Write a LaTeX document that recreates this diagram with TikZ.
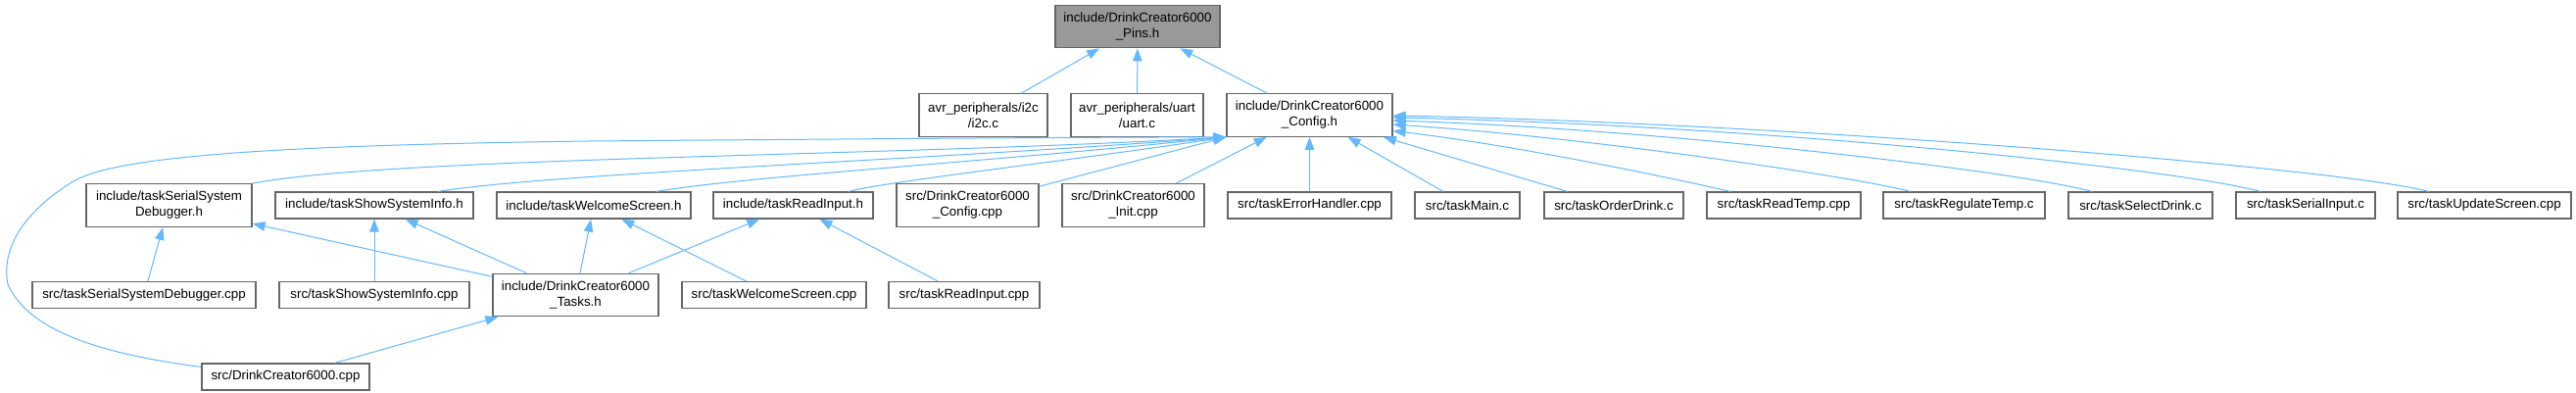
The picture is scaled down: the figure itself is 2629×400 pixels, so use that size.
\documentclass[tikz,border=0pt]{standalone}
\usepackage{fontspec}
\setmainfont{Liberation Sans}
\usetikzlibrary{arrows.meta}
\definecolor{edgeblue}{HTML}{63B8FF}
\definecolor{boxgray}{HTML}{666666}
\definecolor{hlgray}{HTML}{999999}
\begin{document}
\begin{tikzpicture}[x=1pt,y=-1pt,
  box/.style={draw=boxgray, line width=1.2pt, fill=white, inner sep=0pt, align=center,
    font=\fontsize{13.33pt}{16pt}\selectfont, text=black},
  hl/.style={fill=hlgray},
  one/.style={minimum height=27pt},
  two/.style={minimum height=43.5pt},
  edge/.style={draw=edgeblue, line width=1pt, -{Triangle[length=13pt,width=9.5pt]}}]
\useasboundingbox (0,0) rectangle (2629,400);

% row 0
\node[box, hl, two, minimum width=168pt] (pins) at (1161,27) {include/DrinkCreator6000\\\_Pins.h};
% row 1
\node[box, two, minimum width=131pt] (i2c) at (1003.5,117.5) {avr\_peripherals/i2c\\/i2c.c};
\node[box, two, minimum width=135pt] (uart) at (1160.5,117.5) {avr\_peripherals/uart\\/uart.c};
\node[box, two, minimum width=169pt] (cfg) at (1336.5,117.5) {include/DrinkCreator6000\\\_Config.h};
% row 2
\node[box, two, minimum width=169pt] (SSDh) at (172.5,209.5) {include/taskSerialSystem\\Debugger.h};
\node[box, one, minimum width=202pt] (SSIh) at (382,209.5) {include/taskShowSystemInfo.h};
\node[box, one, minimum width=198pt] (WSh) at (606,209.5) {include/taskWelcomeScreen.h};
\node[box, one, minimum width=163pt] (RIh) at (809.5,209.5) {include/taskReadInput.h};
\node[box, two, minimum width=145pt] (DCcfg) at (987.5,209.5) {src/DrinkCreator6000\\\_Config.cpp};
\node[box, two, minimum width=145pt] (DCinit) at (1156.5,209.5) {src/DrinkCreator6000\\\_Init.cpp};
\node[box, one, minimum width=167pt] (EH) at (1336.5,209.5) {src/taskErrorHandler.cpp};
\node[box, one, minimum width=107pt] (main) at (1497.5,209.5) {src/taskMain.c};
\node[box, one, minimum width=142pt] (order) at (1647,209.5) {src/taskOrderDrink.c};
\node[box, one, minimum width=157pt] (readtemp) at (1820.5,209.5) {src/taskReadTemp.cpp};
\node[box, one, minimum width=165pt] (regtemp) at (2004.5,209.5) {src/taskRegulateTemp.c};
\node[box, one, minimum width=147pt] (seldrink) at (2184.5,209.5) {src/taskSelectDrink.c};
\node[box, one, minimum width=142pt] (serinput) at (2353,209.5) {src/taskSerialInput.c};
\node[box, one, minimum width=177pt] (update) at (2535.5,209.5) {src/taskUpdateScreen.cpp};
% row 3
\node[box, one, minimum width=228pt] (SSDcpp) at (147,301) {src/taskSerialSystemDebugger.cpp};
\node[box, one, minimum width=194pt] (SSIcpp) at (382,301) {src/taskShowSystemInfo.cpp};
\node[box, two, minimum width=169pt] (tasks) at (587.5,301) {include/DrinkCreator6000\\\_Tasks.h};
\node[box, one, minimum width=188pt] (WScpp) at (790,301) {src/taskWelcomeScreen.cpp};
\node[box, one, minimum width=154pt] (RIcpp) at (984,301) {src/taskReadInput.cpp};
% row 4
\node[box, one, minimum width=171pt] (DCcpp) at (291.5,384.5) {src/DrinkCreator6000.cpp};

% edges to Pins.h
\draw[edge] (i2c) -- (pins);
\draw[edge] (uart) -- (pins);
\draw[edge] (cfg) -- (pins);

% edges to Config.h (left bundle)
\draw[edge] ([yshift=-4pt]DCcpp.north west) .. controls (110,362) and (30,340) .. (8,290)
  .. controls (0,250) and (30,212) .. (75,185)
  .. controls (120,158) and (300,148) .. (600,144)
  .. controls (850,142) and (1100,140) .. (cfg.south west);
\draw[edge] (SSDh.north east) .. controls (400,160) and (900,160) .. (cfg.south west);
\draw[edge] ([xshift=65pt]SSIh.north) .. controls (560,177) and (950,163) .. (cfg.south west);
\draw[edge] ([xshift=64pt]WSh.north) .. controls (760,180) and (1000,166) .. (cfg.south west);
\draw[edge] ([xshift=56.5pt]RIh.north) .. controls (905,185) and (1100,163) .. (cfg.south west);
\draw[edge] (DCcfg) -- (cfg);
\draw[edge] (DCinit) -- (cfg);
\draw[edge] (EH) -- (cfg);
\draw[edge] (main) -- (cfg);
\draw[edge] (order) -- (cfg);
% edges to Config.h (right side)
\draw[edge] ([xshift=-54.5pt]readtemp.north) .. controls (1730,187) and (1560,150) .. ([yshift=-16pt]cfg.east);
\draw[edge] ([xshift=-54.5pt]regtemp.north) .. controls (1890,180) and (1620,140) .. ([yshift=-9.5pt]cfg.east);
\draw[edge] ([xshift=-49.5pt]seldrink.north) .. controls (2060,175) and (1700,132) .. ([yshift=-5.5pt]cfg.east);
\draw[edge] ([xshift=-46pt]serinput.north) .. controls (2220,172) and (1800,128) .. ([yshift=-2.5pt]cfg.east);
\draw[edge] ([xshift=-56.5pt]update.north) .. controls (2380,170) and (1800,125) .. ([yshift=-0.5pt]cfg.east);

% lower edges
\draw[edge] (SSDcpp) -- (SSDh);
\draw[edge] (tasks) -- (SSDh);
\draw[edge] (SSIcpp) -- (SSIh);
\draw[edge] (tasks) -- (SSIh);
\draw[edge] (tasks) -- (WSh);
\draw[edge] (WScpp) -- (WSh);
\draw[edge] (tasks) -- (RIh);
\draw[edge] (RIcpp) -- (RIh);
\draw[edge] (DCcpp) -- (tasks);
\end{tikzpicture}
\end{document}
